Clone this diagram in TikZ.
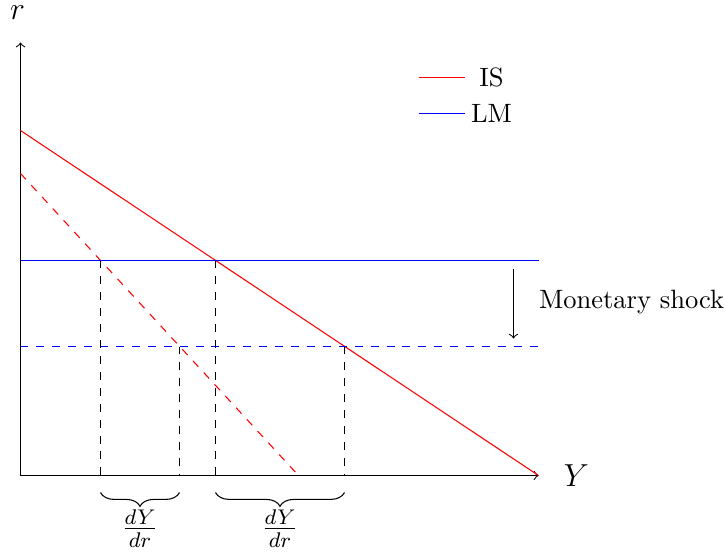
\documentclass[tikz,border=0pt]{standalone}
\usetikzlibrary{decorations.pathreplacing}
\begin{document}
\begin{tikzpicture}[x=0.377pt,y=-0.377pt,
  axis/.style={->,black},
  guide/.style={dashed,black},
  bracestyle/.style={decorate,decoration={brace,mirror,amplitude=5.2pt}},
  islin/.style={red},
  lmlin/.style={blue},
  fraclab/.style={inner sep=0pt,font=\large}]
\useasboundingbox (-0.5,-0.5) rectangle (723.5,551.5);
% axes
\coordinate (O) at (20,475);
\coordinate (Ytop) at (20,42);
\coordinate (Xend) at (538,475);
\draw[axis] (O) -- (Ytop);
\draw[axis] (O) -- (Xend);
\node[inner sep=0pt] (rlab) at (17,12) {\large $r$};
\node (Ylab) at (576,475) {\large $Y$};
% curves
\coordinate (IS1a) at (20,130);
\coordinate (IS1b) at (538,475);
\coordinate (IS2a) at (20,173);
\coordinate (IS2b) at (298,475);
\coordinate (LM1a) at (20,260);
\coordinate (LM1b) at (538,260);
\coordinate (LM2a) at (20,346);
\coordinate (LM2b) at (538,346);
\draw[islin] (IS1a) -- (IS1b);
\draw[islin,dashed] (IS2a) -- (IS2b);
\draw[lmlin] (LM1a) -- (LM1b);
\draw[lmlin,dashed] (LM2a) -- (LM2b);
% intersections and guides
\coordinate (P1) at (100,260);
\coordinate (P2) at (215,260);
\coordinate (P3) at (179,346);
\coordinate (P4) at (344,346);
\coordinate (B1) at (100,475);
\coordinate (B2) at (215,475);
\coordinate (B3) at (179,475);
\coordinate (B4) at (344,475);
\draw[guide] (P1) -- (B1);
\draw[guide] (P2) -- (B2);
\draw[guide] (P3) -- (B3);
\draw[guide] (P4) -- (B4);
% braces
\coordinate (b1s) at (100,492);
\coordinate (b1e) at (179,492);
\coordinate (b2s) at (215,492);
\coordinate (b2e) at (344,492);
\draw[bracestyle] (b1s) -- (b1e);
\draw[bracestyle] (b2s) -- (b2e);
\node[fraclab] (f1) at (139.5,528) {$\frac{dY}{dr}$};
\node[fraclab] (f2) at (279.5,528) {$\frac{dY}{dr}$};
% shock
\coordinate (S1) at (513,268);
\coordinate (S2) at (513,338);
\draw[->] (S1) -- (S2);
\node[anchor=west,inner sep=0pt] (shock) at (538,302) {Monetary shock};
% legend
\coordinate (L1a) at (418,77);
\coordinate (L1b) at (464,77);
\coordinate (L2a) at (418,113);
\coordinate (L2b) at (464,113);
\draw[islin] (L1a) -- (L1b);
\draw[lmlin] (L2a) -- (L2b);
\node (islab) at (491,77) {IS};
\node (lmlab) at (491,113) {LM};
\end{tikzpicture}
\end{document}
